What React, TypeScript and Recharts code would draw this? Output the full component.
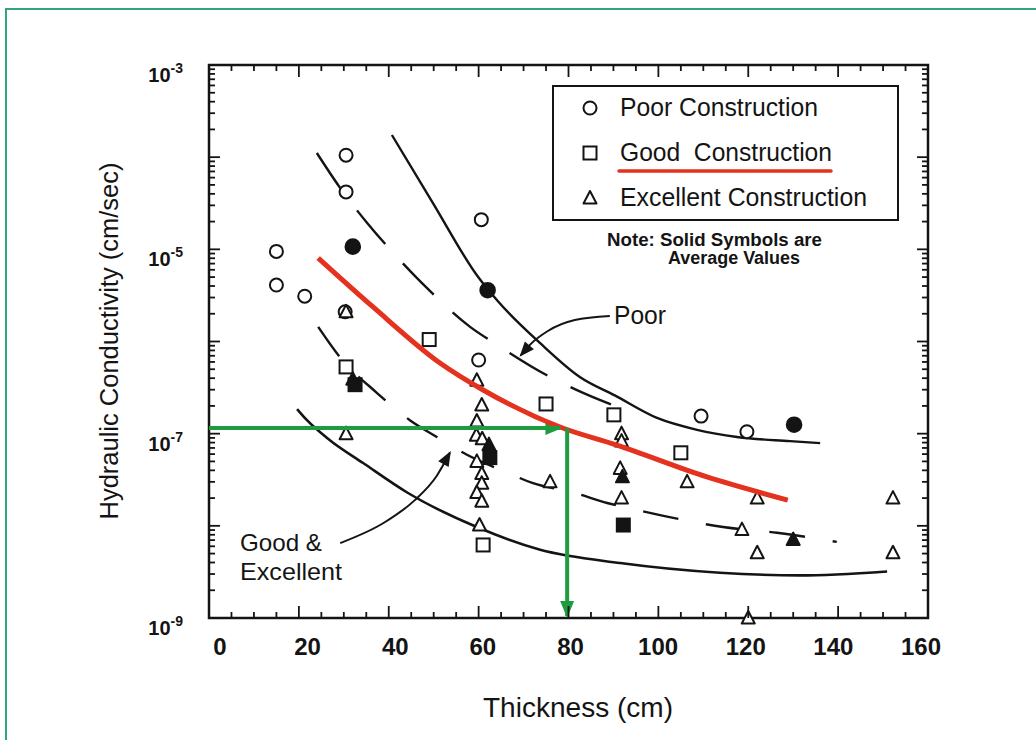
import React from "react";
import { ComposedChart, Line, Scatter, XAxis, YAxis, ReferenceArea, Legend } from "recharts";

const INK = "#141414";
const RED = "#e4321f";
const GREEN = "#1f9b40";
const FRAME = "#34a57a";
const FONT = '"Liberation Sans", Arial, Helvetica, sans-serif';

const CHART_W = 1036;
const CHART_H = 740;
const PLOT_W = 719;
const PLOT_H = 553;

type Pt = { x: number; k: number };

// Thickness (cm) ticks, labels every 20
const xTicks = [0, 5, 10, 15, 20, 25, 30, 35, 40, 45, 50, 55, 60, 65, 70, 75, 80, 85, 90, 95, 100, 105, 110, 115, 120, 125, 130, 135, 140, 145, 150, 155, 160];
// log decades for hydraulic conductivity, labels on odd powers
const yExponents = [-9, -8, -7, -6, -5, -4, -3];
const yMantissas = [1, 2, 3, 4, 5, 6, 7, 8, 9];
const yLabelExponents = [-9, -7, -5, -3];
const yTicks = yExponents.flatMap((e) => (e === -3 ? [1e-3] : yMantissas.map((m) => m * Math.pow(10, e))));

// measured points (solid = average values)
const poorOpen: Pt[] = [
  { x: 30.5, k: 1.05e-4 }, { x: 30.5, k: 4.2e-5 }, { x: 15, k: 9.5e-6 }, { x: 15, k: 4.1e-6 },
  { x: 21.3, k: 3.1e-6 }, { x: 30.3, k: 2.1e-6 }, { x: 60.6, k: 2.1e-5 }, { x: 60, k: 6.3e-7 },
  { x: 109.5, k: 1.55e-7 }, { x: 119.7, k: 1.05e-7 },
];
const poorAvg: Pt[] = [{ x: 32, k: 1.07e-5 }, { x: 62, k: 3.6e-6 }, { x: 130.2, k: 1.25e-7 }];

const goodOpen: Pt[] = [
  { x: 49, k: 1.05e-6 }, { x: 30.5, k: 5.3e-7 }, { x: 75, k: 2.1e-7 }, { x: 90.1, k: 1.6e-7 },
  { x: 105, k: 6.2e-8 }, { x: 61, k: 6.2e-9 },
];
const goodAvg: Pt[] = [{ x: 32.5, k: 3.4e-7 }, { x: 62.5, k: 5.5e-8 }, { x: 92.2, k: 1.02e-8 }];

const excellentOpen: Pt[] = [
  { x: 30.5, k: 2.1e-6 }, { x: 30.5, k: 1e-7 },
  { x: 59.6, k: 3.8e-7 }, { x: 60.7, k: 2.05e-7 }, { x: 59.6, k: 1.37e-7 }, { x: 59.5, k: 9.6e-8 },
  { x: 60.8, k: 8.8e-8 }, { x: 59.6, k: 5e-8 }, { x: 60.7, k: 3.7e-8 }, { x: 60.7, k: 2.9e-8 },
  { x: 59.6, k: 2.3e-8 }, { x: 60.7, k: 1.85e-8 }, { x: 60.2, k: 1.02e-8 },
  { x: 75.9, k: 3e-8 }, { x: 91.8, k: 1e-7 }, { x: 91.8, k: 8.3e-8 }, { x: 91.5, k: 4.2e-8 },
  { x: 91.8, k: 2e-8 }, { x: 106.4, k: 3e-8 }, { x: 122, k: 2e-8 }, { x: 118.6, k: 9.1e-9 },
  { x: 122, k: 5.1e-9 }, { x: 120, k: 1e-9 }, { x: 152.2, k: 2e-8 }, { x: 152.2, k: 5.1e-9 },
];
const excellentAvg: Pt[] = [{ x: 32, k: 3.9e-7 }, { x: 62.3, k: 7.6e-8 }, { x: 92, k: 3.4e-8 }, { x: 130, k: 7.1e-9 }];

// envelope curves
const poorUpper: Pt[] = [
  { x: 40.7, k: 1.74e-4 }, { x: 49.8, k: 3.2e-5 }, { x: 59.9, k: 5e-6 }, { x: 64.1, k: 2.8e-6 },
  { x: 73.7, k: 9.6e-7 }, { x: 82.6, k: 4.1e-7 }, { x: 90.3, k: 2.6e-7 }, { x: 99.7, k: 1.48e-7 },
  { x: 108.6, k: 1.1e-7 }, { x: 117.5, k: 9.2e-8 }, { x: 129.3, k: 8.3e-8 }, { x: 136, k: 7.9e-8 },
];
const poorLower: Pt[] = [
  { x: 24, k: 1.11e-4 }, { x: 29.1, k: 4.7e-5 }, { x: 35.2, k: 1.93e-5 }, { x: 41.8, k: 8.3e-6 },
  { x: 47.4, k: 4.3e-6 }, { x: 58.1, k: 1.44e-6 }, { x: 64.1, k: 9.2e-7 }, { x: 75.2, k: 4.3e-7 },
  { x: 83, k: 2.8e-7 }, { x: 91.5, k: 1.9e-7 },
];
const goodExcUpper: Pt[] = [
  { x: 24.3, k: 1.44e-6 }, { x: 29.1, k: 6.8e-7 }, { x: 37.4, k: 2.76e-7 }, { x: 44.7, k: 1.4e-7 },
  { x: 50.7, k: 9.2e-8 }, { x: 57.4, k: 5.9e-8 }, { x: 66.3, k: 3.8e-8 }, { x: 72.1, k: 2.9e-8 },
  { x: 81, k: 2.3e-8 }, { x: 88.6, k: 1.77e-8 }, { x: 95.2, k: 1.49e-8 }, { x: 103.3, k: 1.22e-8 },
  { x: 114.4, k: 9.7e-9 }, { x: 126.4, k: 8.4e-9 }, { x: 139.7, k: 6.7e-9 },
];
const goodExcLower: Pt[] = [
  { x: 19.6, k: 1.85e-7 }, { x: 21.8, k: 1.4e-7 }, { x: 26.9, k: 8.5e-8 }, { x: 34.3, k: 4.8e-8 },
  { x: 44.1, k: 2.3e-8 }, { x: 59.6, k: 9.7e-9 }, { x: 73.7, k: 5.5e-9 }, { x: 91.5, k: 3.95e-9 },
  { x: 113.7, k: 3.1e-9 }, { x: 131.5, k: 2.9e-9 }, { x: 150.9, k: 3.2e-9 },
];
const goodFit: Pt[] = [
  { x: 24.3, k: 8.05e-6 }, { x: 36.5, k: 2.37e-6 }, { x: 51.4, k: 5.85e-7 }, { x: 61, k: 2.98e-7 },
  { x: 78.1, k: 1.18e-7 }, { x: 90.8, k: 7.5e-8 }, { x: 110.8, k: 3.39e-8 }, { x: 128.8, k: 1.9e-8 },
];

// reading guide: 1e-7 cm/s -> ~80 cm
const guideAcross: Pt[] = [{ x: 0, k: 1.15e-7 }, { x: 78.2, k: 1.15e-7 }];
const guideDown: Pt[] = [{ x: 79.7, k: 1.15e-7 }, { x: 79.7, k: 1.05e-9 }];

// annotation leaders
const poorLeader: Pt[] = [
  { x: 89.2, k: 1.89e-6 }, { x: 81.4, k: 1.71e-6 }, { x: 75.4, k: 1.3e-6 }, { x: 71.4, k: 9.2e-7 }, { x: 69.4, k: 7.1e-7 },
];
const goodExcLeader: Pt[] = [
  { x: 29.2, k: 6.5e-9 }, { x: 39.2, k: 1.1e-8 }, { x: 45.8, k: 1.9e-8 }, { x: 50.7, k: 3.5e-8 }, { x: 53.6, k: 6.2e-8 },
];

const legendItems = [
  { kind: "circle", label: "Poor Construction", len: 198 },
  { kind: "square", label: "Good  Construction", len: 212 },
  { kind: "triangle", label: "Excellent Construction", len: 247 },
];

function Marker({ cx, cy, kind, solid }: { cx: number; cy: number; kind: string; solid?: boolean }) {
  const fill = solid ? INK : "#fff";
  if (kind === "circle") return <circle cx={cx} cy={cy} r={solid ? 7.3 : 6.5} fill={fill} stroke={INK} strokeWidth={2} />;
  if (kind === "square") return <rect x={cx - 6.5} y={cy - 6.5} width={13} height={13} fill={fill} stroke={INK} strokeWidth={2} />;
  return <polygon points={`${cx},${cy - 7} ${cx - 6.5},${cy + 5.5} ${cx + 6.5},${cy + 5.5}`} fill={fill} stroke={INK} strokeWidth={2} strokeLinejoin="round" />;
}

const markerShape = (kind: string, solid?: boolean) => (p: any) => <Marker cx={p.cx} cy={p.cy} kind={kind} solid={solid} />;

function arrowHead(color: string, len: number, half: number) {
  return (p: any) => {
    const { cx, cy, index, points } = p;
    if (!points || index !== points.length - 1 || index === 0) return <g key={`a${index}`} />;
    const prev = points[index - 1];
    const a = Math.atan2(cy - prev.y, cx - prev.x);
    const ux = Math.cos(a);
    const uy = Math.sin(a);
    const tx = cx + ux * 2;
    const ty = cy + uy * 2;
    const bx = tx - ux * len;
    const by = ty - uy * len;
    return (
      <polygon key={`a${index}`} points={`${tx},${ty} ${bx - uy * half},${by + ux * half} ${bx + uy * half},${by - ux * half}`} fill={color} />
    );
  };
}

function YTick(props: any) {
  const { x, y, payload } = props;
  const lg = Math.log10(payload.value);
  const e = Math.round(lg);
  const major = Math.abs(lg - e) < 1e-6;
  const len = major ? 11 : 6;
  return (
    <g>
      <line x1={x} y1={y} x2={x + len} y2={y} stroke={INK} strokeWidth={1.8} />
      <line x1={x + PLOT_W} y1={y} x2={x + PLOT_W - len} y2={y} stroke={INK} strokeWidth={1.8} />
      {major && yLabelExponents.includes(e) && (
        <text x={x - 26} y={y + 17} textAnchor="end" fontFamily={FONT} fontWeight="bold" fontSize={20} fill={INK}>
          10<tspan dy={-9} fontSize={14}>{e}</tspan>
        </text>
      )}
    </g>
  );
}

function XTick(props: any) {
  const { x, y, payload } = props;
  const v = payload.value;
  const major = v % 20 === 0;
  const len = major ? 12 : 6;
  return (
    <g>
      <line x1={x} y1={y} x2={x} y2={y - len} stroke={INK} strokeWidth={1.8} />
      <line x1={x} y1={y - PLOT_H} x2={x} y2={y - PLOT_H + len} stroke={INK} strokeWidth={1.8} />
      {major && (
        <text x={x + 11 - v * 0.1125} y={y + 37} textAnchor="middle" fontFamily={FONT} fontWeight="bold" fontSize={24} fill={INK}>
          {v}
        </text>
      )}
    </g>
  );
}

function LegendBox() {
  return (
    <svg width={347} height={136} style={{ display: "block" }}>
      <rect x={1} y={1} width={345} height={134} fill="#fff" stroke={INK} strokeWidth={2} />
      {legendItems.map((it, i) => (
        <g key={it.label}>
          <Marker cx={38} cy={23 + i * 45} kind={it.kind} />
          <text x={68} y={31 + i * 45} fontFamily={FONT} fontSize={25} fill={INK} textLength={it.len} lengthAdjust="spacingAndGlyphs" style={{ whiteSpace: "pre" }}>
            {it.label}
          </text>
        </g>
      ))}
      <line x1={67} y1={86} x2={279} y2={86} stroke={RED} strokeWidth={3.5} strokeLinecap="round" />
    </svg>
  );
}

export default function App() {
  const curve = { dataKey: "k", type: "monotone" as const, dot: false, activeDot: false, isAnimationActive: false, legendType: "none" as const };
  return (
    <div style={{ position: "fixed", left: 0, top: 0, width: CHART_W, height: CHART_H, overflow: "hidden", background: "#fff" }}>
      <div style={{ position: "absolute", left: 5, top: 8, width: 1100, height: 800, border: `2px solid ${FRAME}` }} />
      <div style={{ position: "absolute", left: 0, top: 0 }}>
        <ComposedChart width={CHART_W} height={CHART_H} margin={{ top: 65, right: 108, bottom: 62, left: 129 }}>
          <XAxis type="number" dataKey="x" domain={[0, 160]} ticks={xTicks} interval={0} tick={<XTick />} tickLine={false} axisLine={false} tickSize={0} tickMargin={0} height={60} />
          <YAxis type="number" scale="log" domain={[1e-9, 1e-3]} ticks={yTicks} interval={0} tick={<YTick />} tickLine={false} axisLine={false} tickSize={0} tickMargin={0} width={80} />
          <ReferenceArea x1={0} x2={160} y1={1e-9} y2={1e-3} fill="none" stroke={INK} strokeWidth={2.5} ifOverflow="visible" />

          <Line data={poorUpper} {...curve} stroke={INK} strokeWidth={2.4} />
          <Line data={poorLower} {...curve} stroke={INK} strokeWidth={2.4} strokeDasharray="44 26" />
          <Line data={goodExcUpper} {...curve} stroke={INK} strokeWidth={2.4} strokeDasharray="36 28" />
          <Line data={goodExcLower} {...curve} stroke={INK} strokeWidth={2.6} />
          <Line data={poorLeader} dataKey="k" type="monotone" stroke={INK} strokeWidth={2} dot={arrowHead(INK, 15, 6)} activeDot={false} isAnimationActive={false} legendType="none" />
          <Line data={goodExcLeader} dataKey="k" type="monotone" stroke={INK} strokeWidth={2} dot={arrowHead(INK, 15, 6)} activeDot={false} isAnimationActive={false} legendType="none" />

          <Scatter data={poorOpen} dataKey="k" shape={markerShape("circle")} isAnimationActive={false} legendType="none" />
          <Scatter data={poorAvg} dataKey="k" shape={markerShape("circle", true)} isAnimationActive={false} legendType="none" />
          <Scatter data={goodOpen} dataKey="k" shape={markerShape("square")} isAnimationActive={false} legendType="none" />
          <Scatter data={goodAvg} dataKey="k" shape={markerShape("square", true)} isAnimationActive={false} legendType="none" />
          <Scatter data={excellentOpen} dataKey="k" shape={markerShape("triangle")} isAnimationActive={false} legendType="none" />
          <Scatter data={excellentAvg} dataKey="k" shape={markerShape("triangle", true)} isAnimationActive={false} legendType="none" />

          <Line data={goodFit} {...curve} stroke={RED} strokeWidth={5} zIndex={700} />
          <Line data={guideAcross} dataKey="k" type="linear" stroke={GREEN} strokeWidth={4} dot={arrowHead(GREEN, 17, 7)} activeDot={false} isAnimationActive={false} legendType="none" zIndex={710} />
          <Line data={guideDown} dataKey="k" type="linear" stroke={GREEN} strokeWidth={4} dot={arrowHead(GREEN, 17, 7)} activeDot={false} isAnimationActive={false} legendType="none" zIndex={710} />

          <Legend layout="vertical" verticalAlign="middle" align="center" wrapperStyle={{ left: 552, top: 85, width: 347, height: 136 }} content={() => <LegendBox />} />
        </ComposedChart>
      </div>
      <svg width={CHART_W} height={CHART_H} style={{ position: "absolute", left: 0, top: 0, pointerEvents: "none" }}>
        <g fontFamily={FONT} fill={INK}>
          <text transform="translate(118,341) rotate(-90)" textAnchor="middle" fontSize={26} textLength={357} lengthAdjust="spacingAndGlyphs">
            Hydraulic Conductivity (cm/sec)
          </text>
          <text x={578} y={717} textAnchor="middle" fontSize={27} textLength={190} lengthAdjust="spacingAndGlyphs">
            Thickness (cm)
          </text>
          <text x={607} y={246} fontSize={18} fontWeight="bold" textLength={215} lengthAdjust="spacingAndGlyphs">
            Note: Solid Symbols are
          </text>
          <text x={668} y={264} fontSize={18} fontWeight="bold" textLength={132} lengthAdjust="spacingAndGlyphs">
            Average Values
          </text>
          <text x={614} y={324} fontSize={25} textLength={52} lengthAdjust="spacingAndGlyphs">
            Poor
          </text>
          <text x={240} y={551} fontSize={24} textLength={82} lengthAdjust="spacingAndGlyphs">
            Good &amp;
          </text>
          <text x={240} y={580} fontSize={24} textLength={102} lengthAdjust="spacingAndGlyphs">
            Excellent
          </text>
        </g>
      </svg>
    </div>
  );
}
